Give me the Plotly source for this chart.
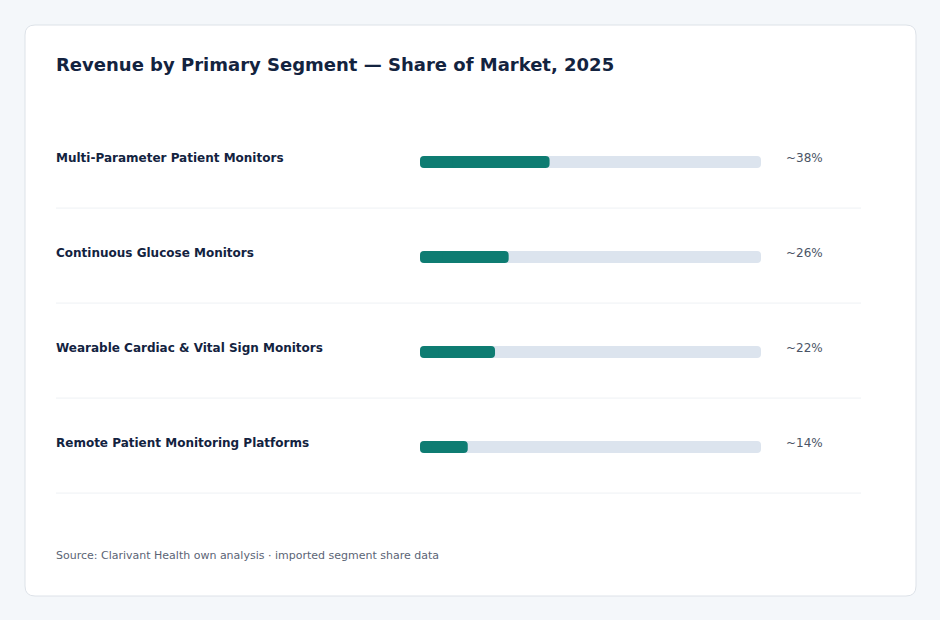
import plotly.graph_objects as go

categories = [
    "Multi-Parameter Patient Monitors",
    "Continuous Glucose Monitors",
    "Wearable Cardiac & Vital Sign Monitors",
    "Remote Patient Monitoring Platforms",
]
shares = [38, 26, 22, 14]
value_labels = ["~38%", "~26%", "~22%", "~14%"]
track_max = 100

title = "Revenue by Primary Segment — Share of Market, 2025"
source = "Source: Clarivant Health own analysis · imported segment share data"

W, H = 940, 620
ROW = 95          # px between rows
FONT = "DejaVu Sans"
idx = list(range(len(categories)))
BAR_W = 12 / ROW  # 12 px thick bars

fig = go.Figure()


def add_pill(values, color):
    # two overlapping bars, each rounded at its outer end; union is a pill
    fig.add_trace(go.Bar(
        x=[-0.75 * v for v in values], base=[0.75 * v for v in values], y=idx, orientation="h",
        marker=dict(color=color, cornerradius=4, line=dict(width=0)),
        width=BAR_W, hoverinfo="skip", showlegend=False,
    ))
    fig.add_trace(go.Bar(
        x=[0.75 * v for v in values], base=[0.25 * v for v in values], y=idx, orientation="h",
        marker=dict(color=color, cornerradius=4, line=dict(width=0)),
        width=BAR_W, hoverinfo="skip", showlegend=False,
    ))


add_pill([track_max] * len(categories), "#dce4ee")
add_pill(shares, "#0e7c72")

# rounded card
x0, y0, x1, y1, r = 25 / W, 1 - 25 / H, 916 / W, 1 - 596 / H, 10
rx, ry = r / W, r / H
path = (f"M {x0+rx},{y0} L {x1-rx},{y0} Q {x1},{y0} {x1},{y0-ry} "
        f"L {x1},{y1+ry} Q {x1},{y1} {x1-rx},{y1} L {x0+rx},{y1} "
        f"Q {x0},{y1} {x0},{y1+ry} L {x0},{y0-ry} Q {x0},{y0} {x0+rx},{y0} Z")
shapes = [dict(type="path", path=path, xref="paper", yref="paper",
               fillcolor="#ffffff", line=dict(color="#dde2e8", width=1), layer="below")]
for i in idx:
    shapes.append(dict(type="line", xref="paper", yref="y",
                       x0=56 / W, x1=861 / W, y0=i + 0.485, y1=i + 0.485,
                       line=dict(color="#eef1f4", width=1), layer="below"))

annotations = []
for i, (c, v) in enumerate(zip(categories, value_labels)):
    annotations.append(dict(text=f"<b>{c}</b>", x=54 / W, y=i, xref="paper", yref="y",
                            xanchor="left", yanchor="middle", yshift=4, showarrow=False,
                            font=dict(family=FONT, size=12, color="#13233f")))
    annotations.append(dict(text=v, x=784 / W, y=i, xref="paper", yref="y",
                            xanchor="left", yanchor="middle", yshift=4, showarrow=False,
                            font=dict(family=FONT, size=12, color="#4a5466")))
annotations.append(dict(text=f"<b>{title}</b>", x=54 / W, y=1 - 64 / H, xref="paper", yref="paper",
                        xanchor="left", yanchor="middle", showarrow=False,
                        font=dict(family=FONT, size=18, color="#13233f")))
annotations.append(dict(text=source, x=54 / W, y=1 - 555 / H, xref="paper", yref="paper",
                        xanchor="left", yanchor="middle", showarrow=False,
                        font=dict(family=FONT, size=11, color="#5b6475")))

fig.update_layout(
    width=W, height=H, margin=dict(l=0, r=0, t=0, b=0),
    paper_bgcolor="#f4f7fa", plot_bgcolor="rgba(0,0,0,0)",
    barmode="overlay", shapes=shapes, annotations=annotations,
    xaxis=dict(domain=[420 / W, 761 / W], range=[0, track_max], visible=False, fixedrange=True),
    yaxis=dict(domain=[0, 1], range=[(H - 162) / ROW, -162 / ROW], visible=False, fixedrange=True),
    showlegend=False, hovermode=False,
)
fig.write_html("out.html", config={"displayModeBar": False})
